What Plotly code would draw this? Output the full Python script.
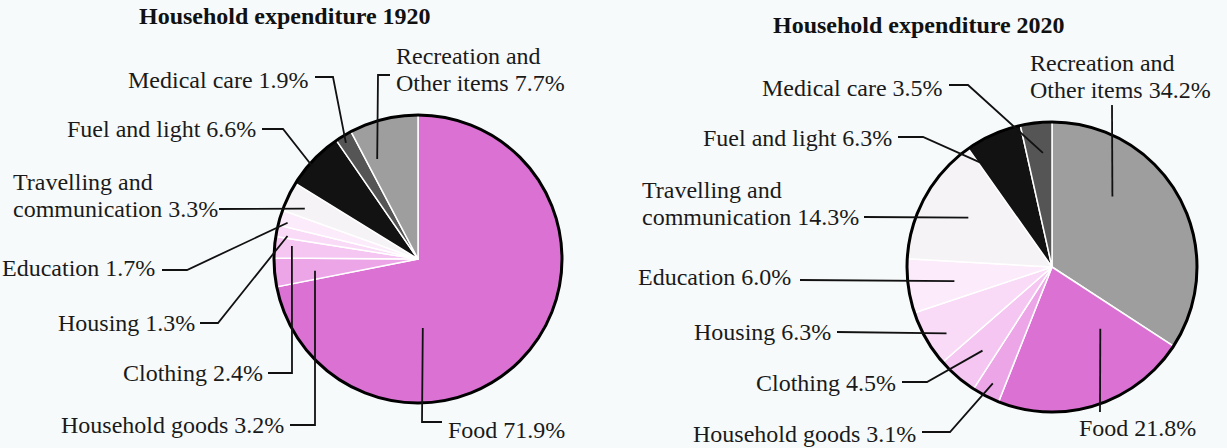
"""
Household expenditure 1920 vs 2020 - two pie charts with leader-line labels
"""

import math
import plotly.graph_objects as go

W, H = 1227, 448

# ---- data ----
categories_1920 = ["Food", "Household goods", "Clothing", "Housing", "Education",
                   "Travelling and communication", "Fuel and light", "Medical care",
                   "Recreation and Other items"]
values_1920 = [71.9, 3.2, 2.4, 1.3, 1.7, 3.3, 6.6, 1.9, 7.7]

categories_2020 = ["Recreation and Other items", "Food", "Household goods", "Clothing",
                   "Housing", "Education", "Travelling and communication",
                   "Fuel and light", "Medical care"]
values_2020 = [34.2, 21.8, 3.1, 4.5, 6.3, 6.0, 14.3, 6.3, 3.5]

titles = ["Household expenditure 1920", "Household expenditure 2020"]

# label text split over lines where the original wraps
label_lines = {
    "Recreation and Other items": ["Recreation and", "Other items"],
    "Travelling and communication": ["Travelling and", "communication"],
}

colors = {
    "Food": "#db72d3",
    "Household goods": "#eca6e8",
    "Clothing": "#f4c6f1",
    "Housing": "#f9dbf7",
    "Education": "#fcebfb",
    "Travelling and communication": "#f5f3f6",
    "Fuel and light": "#121212",
    "Medical care": "#555555",
    "Recreation and Other items": "#9e9e9e",
}

FONT = "Liberation Serif"
BG = "#f7fafb"

# ---- layout of each pie (pixels) ----
pies = [
    dict(cats=categories_1920, vals=values_1920, cx=418, cy=259, r=144,
         title=(285, 16)),
    dict(cats=categories_2020, vals=values_2020, cx=1052, cy=267, r=145,
         title=(919, 25)),
]

# label placement: text x/y (first line centre), anchor, leader path start (+elbow),
# and where the leader ends inside the slice (t = fraction across slice, rf = radius fraction)
labels_1920 = {
    "Recreation and Other items": dict(x=394, y=56, anchor="left", path=[(390, 75), (378, 75)], t=0.20, rf=0.75),
    "Medical care": dict(x=311, y=80, anchor="right", path=[(315, 77), (333, 77)], t=0.40, rf=0.95),
    "Fuel and light": dict(x=258, y=129, anchor="right", path=[(262, 129), (283, 129)], t=0.40, rf=0.97),
    "Travelling and communication": dict(x=11, y=182, anchor="left", path=[(219, 209)], t=0.35, rf=0.86),
    "Education": dict(x=157, y=268, anchor="right", path=[(162, 270), (187, 270)], t=0.30, rf=0.94),
    "Housing": dict(x=197, y=323, anchor="right", path=[(200, 323), (218, 323)], t=0.21, rf=0.92),
    "Clothing": dict(x=265, y=373, anchor="right", path=[(268, 373), (292, 373)], t=0.64, rf=0.88),
    "Household goods": dict(x=286, y=425, anchor="right", path=[(290, 425), (315, 425)], t=0.40, rf=0.72),
    "Food": dict(x=446, y=430, anchor="left", path=[(442, 422), (422, 422)], t=0.68, rf=0.48),
}
labels_2020 = {
    "Recreation and Other items": dict(x=1028, y=63, anchor="left", path=[(1112, 105)], t=0.33, rf=0.64),
    "Medical care": dict(x=945, y=88, anchor="right", path=[(949, 85), (968, 85)], t=0.64, rf=0.79),
    "Fuel and light": dict(x=894, y=138, anchor="right", path=[(898, 137), (923, 137)], t=0.12, rf=0.83),
    "Travelling and communication": dict(x=640, y=190, anchor="left", path=[(864, 217)], t=0.53, rf=0.67),
    "Education": dict(x=793, y=277, anchor="right", path=[(800, 280)], t=0.47, rf=0.68),
    "Housing": dict(x=833, y=332, anchor="right", path=[(837, 332)], t=0.39, rf=0.86),
    "Clothing": dict(x=898, y=383, anchor="right", path=[(902, 382), (927, 382)], t=0.43, rf=0.75),
    "Household goods": dict(x=918, y=434, anchor="right", path=[(922, 432), (950, 432)], t=0.48, rf=0.90),
    "Food": dict(x=1137, y=428, anchor="center", path=[(1100, 412)], t=0.24, rf=0.54),
}
pies[0]["labels"] = labels_1920
pies[1]["labels"] = labels_2020

LINE_GAP = 27


def slice_point(pie, idx, t, rf):
    """Point inside slice idx (clockwise from 12 o'clock), in pixels"""
    total = sum(pie["vals"])
    start = sum(pie["vals"][:idx])
    ang = math.radians(360 * (start + t * pie["vals"][idx]) / total)
    rad = rf * pie["r"]
    return pie["cx"] + rad * math.sin(ang), pie["cy"] - rad * math.cos(ang)


fig = go.Figure()
shapes = []
annotations = []
anchor_x, anchor_y = [], []

for n, pie in enumerate(pies):
    cx, cy, r = pie["cx"], pie["cy"], pie["r"]
    fig.add_trace(go.Pie(
        labels=pie["cats"],
        values=pie["vals"],
        sort=False,
        direction="clockwise",
        rotation=0,
        textinfo="none",
        hoverinfo="label+percent",
        marker=dict(colors=[colors[c] for c in pie["cats"]],
                    line=dict(color="white", width=1.5)),
        domain=dict(x=[(cx - r) / W, (cx + r) / W],
                    y=[1 - (cy + r) / H, 1 - (cy - r) / H]),
        showlegend=False,
    ))

    # black outer ring
    shapes.append(dict(type="circle", xref="x", yref="y",
                       x0=cx - r, x1=cx + r, y0=cy - r, y1=cy + r,
                       line=dict(color="black", width=3), layer="above"))

    tx, ty = pie["title"]
    annotations.append(dict(x=tx, y=ty, xref="x", yref="y", text=titles[n],
                            showarrow=False, xanchor="center", yanchor="middle",
                            font=dict(family=FONT, size=24, color="#111111", weight="bold")))

    for i, cat in enumerate(pie["cats"]):
        spec = pie["labels"][cat]
        lines = label_lines.get(cat, [cat])
        lines = lines[:-1] + [f"{lines[-1]} {pie['vals'][i]:.1f}%"]
        for k, line in enumerate(lines):
            annotations.append(dict(x=spec["x"], y=spec["y"] + k * LINE_GAP, xref="x", yref="y",
                                    text=line, showarrow=False, xanchor=spec["anchor"],
                                    yanchor="middle",
                                    font=dict(family=FONT, size=24, color="#1a1a1a")))
        end = slice_point(pie, i, spec["t"], spec["rf"])
        anchor_x.append(end[0])
        anchor_y.append(end[1])
        pts = spec["path"] + [end]
        path = "M " + " L ".join(f"{x:.1f},{y:.1f}" for x, y in pts)
        shapes.append(dict(type="path", xref="x", yref="y", path=path,
                           line=dict(color="#111111", width=1.8), layer="above"))

# invisible anchor trace so the pixel axes exist
fig.add_trace(go.Scatter(x=anchor_x, y=anchor_y, mode="markers",
                         marker=dict(size=1, opacity=0), hoverinfo="skip",
                         showlegend=False))

fig.update_layout(
    width=W, height=H,
    margin=dict(l=0, r=0, t=0, b=0),
    paper_bgcolor=BG,
    plot_bgcolor="rgba(0,0,0,0)",
    showlegend=False,
    xaxis=dict(range=[0, W], visible=False, fixedrange=True, domain=[0, 1]),
    yaxis=dict(range=[H, 0], visible=False, fixedrange=True, domain=[0, 1]),
    shapes=shapes,
    annotations=annotations,
)

# drop the default body margin so the figure sits at the window's top-left
fig.write_html("out.html", config={"displayModeBar": False},
               post_script="document.body.style.margin='0';")
